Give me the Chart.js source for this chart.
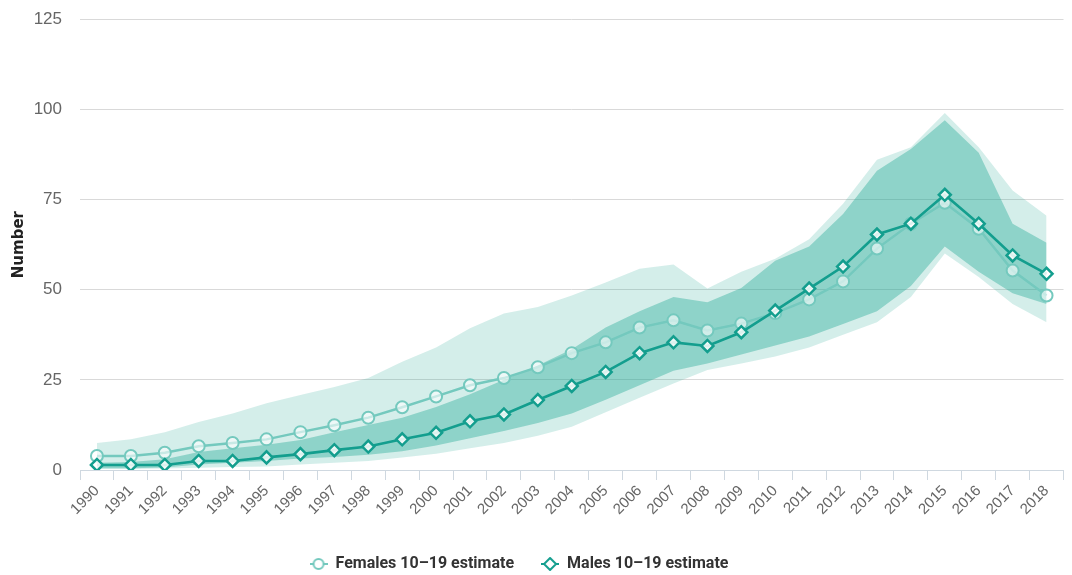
<!DOCTYPE html>
<html>
<head>
<meta charset="utf-8">
<script src="https://cdn.jsdelivr.net/npm/chart.js@4"></script>
<style>
  html, body { margin: 0; padding: 0; background: #fff; }
  #wrap { width: 1072px; height: 575px; overflow: hidden; }
  #chart { display: block; margin-top: -9px; }
</style>
</head>
<body>
<div id="wrap"><canvas id="chart" width="1072" height="584"></canvas></div>
<script>
// years on the x axis
const years = ['1990','1991','1992','1993','1994','1995','1996','1997','1998','1999',
  '2000','2001','2002','2003','2004','2005','2006','2007','2008','2009',
  '2010','2011','2012','2013','2014','2015','2016','2017','2018'];

// estimates
const femalesEstimate = [3.9, 3.9, 4.8, 6.6, 7.5, 8.5, 10.5, 12.4, 14.5, 17.4,
  20.4, 23.5, 25.5, 28.5, 32.4, 35.4, 39.5, 41.5, 38.7, 40.6,
  43.5, 47.3, 52.3, 61.4, 68.3, 74.1, 66.9, 55.3, 48.4];
const malesEstimate = [1.4, 1.4, 1.4, 2.5, 2.5, 3.5, 4.4, 5.5, 6.5, 8.5,
  10.3, 13.5, 15.4, 19.4, 23.3, 27.2, 32.4, 35.4, 34.4, 38.2,
  44.2, 50.3, 56.4, 65.3, 68.3, 76.3, 68.3, 59.5, 54.4];

// uncertainty bounds
const femalesUpper = [7.5, 8.5, 10.5, 13.3, 15.7, 18.5, 20.8, 23, 25.5, 30,
  34, 39.3, 43.4, 45.2, 48.4, 52, 55.8, 57, 50.3, 55,
  58.6, 64, 73.8, 86, 89.5, 99, 89.5, 77.5, 70.5];
const femalesLower = [0.3, 0.3, 0.4, 0.6, 0.8, 1, 1.5, 2, 2.5, 3.5,
  4.5, 6, 7.5, 9.5, 12, 16, 20, 24, 27.7, 29.5,
  31.5, 34, 37.5, 41, 48, 60, 53.5, 46, 41];
const malesUpper = [2, 2.2, 3, 5, 6, 7, 8.3, 10.5, 12.5, 14.5,
  17.5, 21, 25, 29, 33.5, 39.5, 44, 48, 46.5, 50.5,
  58, 62, 71, 83, 89, 97, 88, 68.3, 63];
const malesLower = [0.5, 0.5, 0.7, 1.5, 2, 2.5, 3.2, 3.6, 4.2, 5.2,
  6.8, 8.8, 10.8, 13, 15.7, 19.5, 23.5, 27.5, 29.5, 32,
  34.5, 37, 40.5, 44, 51, 62, 55, 49, 46];

const yTicks = [0, 25, 50, 75, 100, 125];

const femaleColor = '#74c9be';
const maleColor = '#139e8e';

// little line+marker pictures for the legend
function legendIcon(color, style) {
  const c = document.createElement('canvas');
  c.width = 18; c.height = 14;
  const g = c.getContext('2d');
  g.strokeStyle = color;
  g.lineWidth = 2;
  g.beginPath(); g.moveTo(0, 7); g.lineTo(18, 7); g.stroke();
  g.fillStyle = '#fff';
  g.beginPath();
  if (style === 'circle') {
    g.arc(9, 7, 5, 0, Math.PI * 2);
  } else {
    g.moveTo(9, 1); g.lineTo(15, 7); g.lineTo(9, 13); g.lineTo(3, 7); g.closePath();
  }
  g.fill(); g.stroke();
  return c;
}

const bandBase = { pointRadius: 0, borderWidth: 0, borderColor: 'transparent', tension: 0 };

// keep the legend short and put it where the original has it
const legendPlace = {
  id: 'legendPlace',
  afterInit(chart) {
    const lg = chart.legend;
    const fit = lg.fit.bind(lg);
    lg.fit = function() { fit(); this.height = 30; };
  },
  afterLayout(chart) {
    const lg = chart.legend;
    lg.left -= 17;
    lg.right -= 17;
    lg.top = 538;
    lg.bottom = 584;
    lg.height = 46;
  }
};

new Chart(document.getElementById('chart'), {
  type: 'line',
  data: {
    labels: years,
    datasets: [
      {
        label: 'Females 10–19 estimate', data: femalesEstimate, order: 1,
        borderColor: femaleColor, borderWidth: 2.4, backgroundColor: 'rgba(255,255,255,0.6)',
        pointStyle: 'circle', pointRadius: 6, pointBorderWidth: 2,
        pointBorderColor: femaleColor, pointBackgroundColor: 'rgba(255,255,255,0.6)',
        legendIcon: legendIcon(femaleColor, 'circle'), fill: false
      },
      {
        label: 'Males 10–19 estimate', data: malesEstimate, order: 0,
        borderColor: maleColor, borderWidth: 2.6, backgroundColor: '#fff',
        pointStyle: 'rectRot', pointRadius: 6, pointBorderWidth: 2.5,
        pointBorderColor: maleColor, pointBackgroundColor: 'rgba(255,255,255,0.85)',
        legendIcon: legendIcon(maleColor, 'diamond'), fill: false
      },
      Object.assign({ label: 'mu', data: malesUpper, order: 2, fill: '+1',
        backgroundColor: 'rgba(38,170,150,0.4)' }, bandBase),
      Object.assign({ label: 'ml', data: malesLower, order: 2, fill: false }, bandBase),
      Object.assign({ label: 'fu', data: femalesUpper, order: 3, fill: '+1',
        backgroundColor: 'rgba(38,170,150,0.2)' }, bandBase),
      Object.assign({ label: 'fl', data: femalesLower, order: 3, fill: false }, bandBase)
    ]
  },
  plugins: [legendPlace],
  options: {
    responsive: false,
    animation: false,
    layout: { padding: { left: 0, right: 0, top: 0, bottom: 0 } },
    plugins: {
      tooltip: { enabled: false },
      legend: {
        position: 'bottom',
        labels: {
          usePointStyle: true,
          pointStyleWidth: 18,
          color: '#333',
          padding: 27,
          font: { family: 'Roboto, "Liberation Sans", sans-serif', size: 16, weight: 'bold' },
          filter: item => item.datasetIndex < 2,
          sort: (a, b) => a.datasetIndex - b.datasetIndex,
          generateLabels: chart => chart.data.datasets.map((ds, i) => ({
            text: ds.label, datasetIndex: i, pointStyle: ds.legendIcon,
            fillStyle: 'transparent', strokeStyle: 'transparent', lineWidth: 0,
            fontColor: '#333', hidden: false
          }))
        }
      }
    },
    scales: {
      x: {
        offset: true,
        afterFit: s => { s.height = 75; },
        grid: { display: true, drawOnChartArea: false, offset: true, tickLength: 10, color: '#cfd8e0' },
        border: { color: '#cfd8e0' },
        ticks: {
          color: '#666', minRotation: 45, maxRotation: 45, padding: 2,
          font: { family: '"Liberation Sans", Arial, sans-serif', size: 15 }
        }
      },
      y: {
        min: 0, max: 125,
        afterBuildTicks: s => { s.ticks = yTicks.map(v => ({ value: v })); },
        afterFit: s => { s.width = 80; },
        grid: { color: '#d9d9d9', drawTicks: false },
        border: { display: false },
        ticks: {
          color: '#666', padding: 18,
          font: { family: '"Liberation Sans Narrow", "Liberation Sans", Arial, sans-serif', size: 17 }
        },
        title: {
          display: true, text: 'Number', color: '#222', padding: { top: 10, bottom: 0 },
          font: { family: '"DejaVu Sans", sans-serif', size: 15, weight: 'bold' }
        }
      }
    }
  }
});
</script>
</body>
</html>
